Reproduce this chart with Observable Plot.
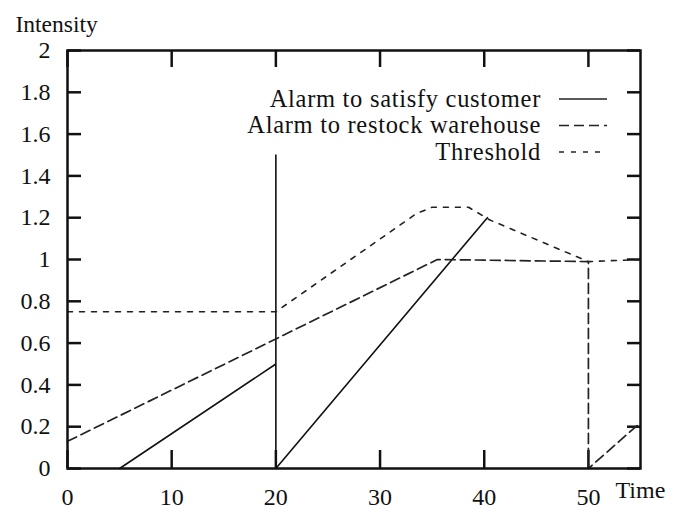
<!DOCTYPE html>
<html>
<head>
<meta charset="utf-8">
<script src="https://cdn.jsdelivr.net/npm/d3@7"></script>
<script src="https://cdn.jsdelivr.net/npm/@observablehq/plot@0.6"></script>
<style>
  html, body { margin: 0; padding: 0; background: #ffffff; }
  #chart { width: 680px; height: 509px; }
</style>
</head>
<body>
<div id="chart"></div>
<script>
// ---- Data ----
const customerTime  = [5, 20, 20, 20, 40.3];
const customerValue = [0, 0.5, 1.5, 0, 1.2];

const restockTime  = [0, 20, 35.5, 50, 50, 55];
const restockValue = [0.13, 0.62, 1.0, 0.99, 0, 0.22];

const thresholdTime  = [0, 20, 33.5, 35, 38.5, 40.5, 50, 55];
const thresholdValue = [0.75, 0.75, 1.22, 1.25, 1.25, 1.19, 0.99, 1.0];

const xTicks = [0, 10, 20, 30, 40, 50];
const yTicks = [0, 0.2, 0.4, 0.6, 0.8, 1, 1.2, 1.4, 1.6, 1.8, 2];

const seriesNames = ["Alarm to satisfy customer", "Alarm to restock warehouse", "Threshold"];
const seriesDash  = [null, "10,5", "5,7"];

const xLabel = "Time";
const yLabel = "Intensity";

// ---- Build tables ----
const toRows = (ts, vs) => ts.map((t, i) => ({t, v: vs[i]}));
const customer  = toRows(customerTime, customerValue);
const restock   = toRows(restockTime, restockValue);
const threshold = toRows(thresholdTime, thresholdValue);

const W = 680, H = 509;
const mL = 67, mR = 40, mT = 50, mB = 41;
const innerW = W - mL - mR, innerH = H - mT - mB;
const font = "'Liberation Serif', 'Times New Roman', serif";

const chart = Plot.plot({
  width: W,
  height: H,
  marginLeft: mL,
  marginRight: mR,
  marginTop: mT,
  marginBottom: mB,
  style: {fontFamily: font, fontSize: "24px", background: "#ffffff", color: "#111"},
  x: {domain: [0, 55]},
  y: {domain: [0, 2]},
  marks: [
    Plot.axisX(xTicks, {tickSize: 0, tickPadding: 19, label: null, fontSize: 24}),
    Plot.axisY(yTicks, {tickSize: 0, tickPadding: 17, label: null, fontSize: 24,
      tickFormat: d => String(+d.toFixed(1))}),
    // inward ticks (left, right, bottom, top)
    Plot.tickY(yTicks, {y: d => d, insetRight: innerW - 14, stroke: "#111", strokeWidth: 2.5}),
    Plot.tickY(yTicks, {y: d => d, insetLeft: innerW - 13, stroke: "#111", strokeWidth: 2.5}),
    Plot.tickX(xTicks, {x: d => d, insetTop: innerH - 18, stroke: "#111", strokeWidth: 2.5}),
    Plot.tickX(xTicks, {x: d => d, insetBottom: innerH - 17, stroke: "#111", strokeWidth: 2.5}),
    // data
    Plot.line(customer, {x: "t", y: "v", stroke: "#111", strokeWidth: 1.6}),
    Plot.line(restock, {x: "t", y: "v", stroke: "#222", strokeWidth: 1.7, strokeDasharray: seriesDash[1]}),
    Plot.line(threshold, {x: "t", y: "v", stroke: "#222", strokeWidth: 1.6, strokeDasharray: seriesDash[2]}),
    Plot.frame({stroke: "#111", strokeWidth: 2.5}),
    // axis titles
    Plot.text([yLabel], {frameAnchor: "top-left", dx: -52, dy: -35, text: d => d, textAnchor: "start", fontSize: 23.5, letterSpacing: "0.6px"}),
    Plot.text([xLabel], {frameAnchor: "bottom-right", dx: -25, dy: 29, text: d => d, textAnchor: "start", fontSize: 24})
  ]
});

document.getElementById("chart").appendChild(chart);

// ---- Legend inside the frame, top right ----
const svg = d3.select(chart);
const frameRight = W - mR, frameTop = mT;
const leg = svg.append("g").attr("font-family", font).attr("font-size", 24.5)
  .attr("letter-spacing", "0.7px").attr("fill", "#111");
seriesNames.forEach((name, i) => {
  const y = frameTop + 49 + i * 26.5;
  leg.append("text")
    .attr("x", frameRight - 99)
    .attr("y", y)
    .attr("dy", "0.32em")
    .attr("text-anchor", "end")
    .text(name);
  leg.append("line")
    .attr("x1", frameRight - 81).attr("x2", frameRight - 33)
    .attr("y1", y).attr("y2", y)
    .attr("stroke", "#222")
    .attr("stroke-width", 1.7)
    .attr("stroke-dasharray", seriesDash[i]);
});
</script>
</body>
</html>
